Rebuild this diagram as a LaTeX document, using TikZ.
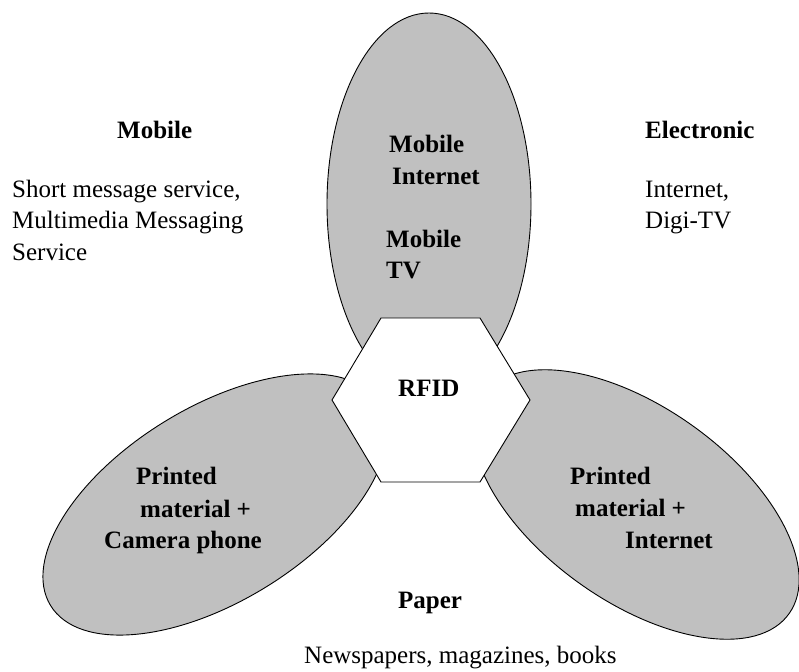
\documentclass[tikz,border=0pt]{standalone}
\usepackage{fontspec}
\setmainfont{Liberation Serif}
\definecolor{petal}{HTML}{C0C0C0}
\begin{document}
\begin{tikzpicture}[x=1pt,y=-1pt,
  petalshape/.style={fill=petal,draw=black,line width=0.9pt},
  hexshape/.style={fill=white,draw=black,line width=0.9pt,line join=miter},
  lbl/.style={anchor=base west,inner sep=0pt,font=\fontsize{25}{31.5}\selectfont},
  blbl/.style={lbl,font=\fontsize{25}{31.5}\selectfont\bfseries}]
\useasboundingbox (0,0) rectangle (799,671);
% petals
\draw[petalshape] (429,204) ellipse [x radius=102, y radius=191];
\draw[petalshape,shift={(215,504.5)},rotate=31.6] (0,0) ellipse [x radius=193, y radius=97];
\draw[petalshape,shift={(636,504.5)},rotate=-35.5] (0,0) ellipse [x radius=188, y radius=97];
% hexagon
\draw[hexshape] (381,318) -- (480,318) -- (530,400) -- (480,482) -- (381,482) -- (332,400) -- cycle;
% texts
\node[blbl] (mobh) at (117,139) {Mobile};
\node[lbl] (mob1) at (12,197) {Short message service,};
\node[lbl] (mob2) at (12,228) {Multimedia Messaging};
\node[lbl] (mob3) at (12,260) {Service};
\node[blbl] (elh) at (645,139) {Electronic};
\node[lbl] (el1) at (645,197) {Internet,};
\node[lbl] (el2) at (645,228) {Digi-TV};
\node[blbl] (mi1) at (389,153) {Mobile};
\node[blbl] (mi2) at (392,184) {Internet};
\node[blbl] (mt1) at (386,247) {Mobile};
\node[blbl] (mt2) at (386,278) {TV};
\node[blbl] (rfid) at (398,396) {RFID};
\node[blbl] (pc1) at (136,484) {Printed};
\node[blbl] (pc2) at (140,517) {material +};
\node[blbl] (pc3) at (104,548) {Camera phone};
\node[blbl] (pi1) at (570,484) {Printed};
\node[blbl] (pi2) at (575,516) {material +};
\node[blbl] (pi3) at (625,548) {Internet};
\node[blbl] (paph) at (398,608) {Paper};
\node[lbl] (pap1) at (304,663) {Newspapers, magazines, books};
\end{tikzpicture}
\end{document}
